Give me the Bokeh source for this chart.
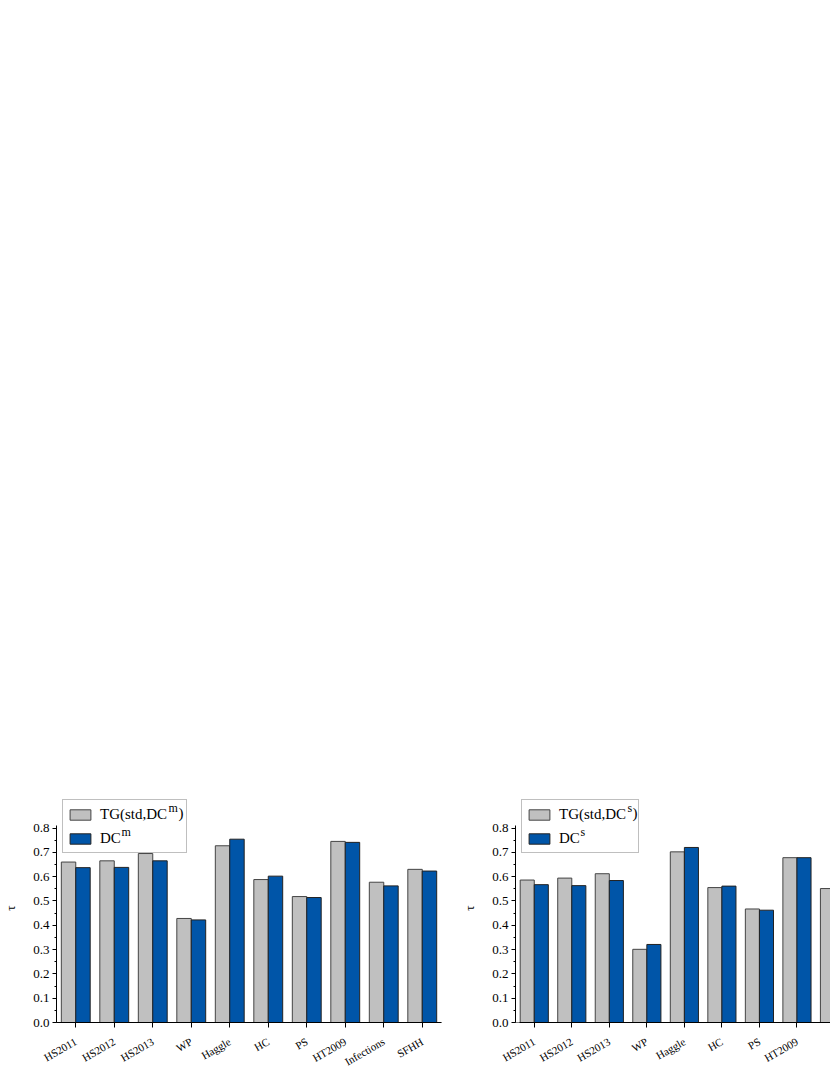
import numpy as np
from bokeh.plotting import figure
from bokeh.models import (ColumnDataSource, Range1d, FixedTicker, SingleIntervalTicker,
                          PrintfTickFormatter, Legend, LegendItem, Label, Span)
from bokeh.layouts import row
from bokeh.embed import file_html
from bokeh.resources import INLINE

categories = ["HS2011", "HS2012", "HS2013", "WP", "Haggle", "HC", "PS", "HT2009", "Infections", "SFHH"]

# left panel (m)
tg_m = [0.660, 0.665, 0.695, 0.428, 0.727, 0.588, 0.518, 0.745, 0.577, 0.630]
dc_m = [0.637, 0.638, 0.665, 0.422, 0.754, 0.602, 0.514, 0.741, 0.562, 0.623]

# right panel (s)
tg_s = [0.586, 0.594, 0.612, 0.301, 0.702, 0.555, 0.467, 0.678, 0.551, 0.600]
dc_s = [0.567, 0.563, 0.584, 0.321, 0.720, 0.561, 0.462, 0.678, 0.540, 0.590]

legend_base = ["TG(std,DC", "DC"]
sup_m = "m"
sup_s = "s"

GRAY = "#C0C0C0"
BLUE = "#0055A8"
FONT = "Liberation Serif"
BAR_W = 0.375
FRAME_H = 230


def make_panel(tg, dc, sup, sup_w, n_pad, width, left_border, right_border, x_end, x_bounds):
    idx = np.arange(len(categories))
    src = ColumnDataSource(dict(
        x_tg=idx - BAR_W / 2, x_dc=idx + BAR_W / 2, tg=tg, dc=dc))
    p = figure(width=width, height=1075, output_backend="svg", toolbar_location=None,
               x_range=Range1d(-0.5, x_end), y_range=Range1d(0, 0.942),
               min_border_left=left_border, min_border_right=right_border,
               min_border_top=793, min_border_bottom=52)
    p.outline_line_color = None
    p.grid.grid_line_color = None
    r1 = p.vbar(x="x_tg", top="tg", width=BAR_W, source=src, fill_color=GRAY,
                line_color="#444444", line_width=1)
    r2 = p.vbar(x="x_dc", top="dc", width=BAR_W, source=src, fill_color=BLUE,
                line_color="#222222", line_width=1)
    p.add_layout(Span(location=0, dimension="width", line_color="black", line_width=1))

    xa = p.xaxis[0]
    xa.ticker = FixedTicker(ticks=list(range(len(categories))), minor_ticks=[])
    xa.major_label_overrides = {i: c for i, c in enumerate(categories)}
    xa.bounds = x_bounds
    xa.major_label_orientation = np.pi / 6
    xa.major_label_text_font = FONT
    xa.major_label_text_font_size = "11px"
    xa.major_label_text_color = "black"
    xa.major_label_standoff = 13
    xa.major_tick_in = 0
    xa.major_tick_out = 5
    xa.minor_tick_out = 0
    xa.axis_line_color = "black"
    xa.major_tick_line_color = "black"

    ya = p.yaxis[0]
    ya.ticker = SingleIntervalTicker(interval=0.1, num_minor_ticks=2)
    ya.formatter = PrintfTickFormatter(format="%.1f")
    ya.bounds = (0, 0.81)
    ya.major_tick_in = 0
    ya.major_tick_out = 4
    ya.minor_tick_in = 0
    ya.minor_tick_out = 2
    ya.axis_line_color = "black"
    ya.major_tick_line_color = "black"
    ya.minor_tick_line_color = "black"
    ya.major_label_text_font = FONT
    ya.major_label_text_font_size = "13px"
    ya.major_label_text_color = "black"
    ya.major_label_standoff = 3
    ya.axis_label = "\u03c4"
    ya.axis_label_text_font = FONT
    ya.axis_label_text_font_size = "13px"
    ya.axis_label_text_font_style = "normal"
    ya.axis_label_text_color = "black"
    ya.axis_label_standoff = 12

    pad = "\u00a0" * n_pad
    legend = Legend(items=[LegendItem(label=legend_base[0] + pad, renderers=[r1]),
                           LegendItem(label=legend_base[1] + "\u00a0\u00a0", renderers=[r2])],
                    location="top_left", margin=6, padding=4, spacing=4,
                    glyph_width=26, glyph_height=13, label_height=20,
                    label_standoff=7, label_text_font=FONT,
                    label_text_font_size="15px", label_text_color="black",
                    border_line_color="#808080", border_line_width=1,
                    background_fill_alpha=0)
    p.add_layout(legend, "center")

    # superscripts of the legend labels (screen units, relative to the frame)
    y1 = FRAME_H - 6 - 4 - 10
    y2 = y1 - 24
    sup_kw = dict(x_units="screen", y_units="screen", text_font=FONT,
                  text_font_size="12px", text_color="black", text_baseline="middle",
                  level="overlay")
    x_sup1 = 6 + 4 + 26 + 7 + 67 + 2
    p.add_layout(Label(x=x_sup1, y=y1 + 5, text=sup, **sup_kw))
    p.add_layout(Label(x=x_sup1 + sup_w, y=y1, text=")", x_units="screen", y_units="screen",
                       text_font=FONT, text_font_size="15px", text_color="black",
                       text_baseline="middle", level="overlay"))
    p.add_layout(Label(x=6 + 4 + 26 + 7 + 21 + 1, y=y2 + 5, text=sup, **sup_kw))
    return p


x_end_r = -0.5 + 324 / 38.6
left = make_panel(tg_m, dc_m, sup_m, 10, 4, 459, 55, 18, 9.5, "auto")
right = make_panel(tg_s, dc_s, sup_s, 5, 2, 371, 47, 0, x_end_r, (-0.39, 8.0))
layout = row(left, right)

open("out.html", "w").write(file_html(layout, INLINE))
